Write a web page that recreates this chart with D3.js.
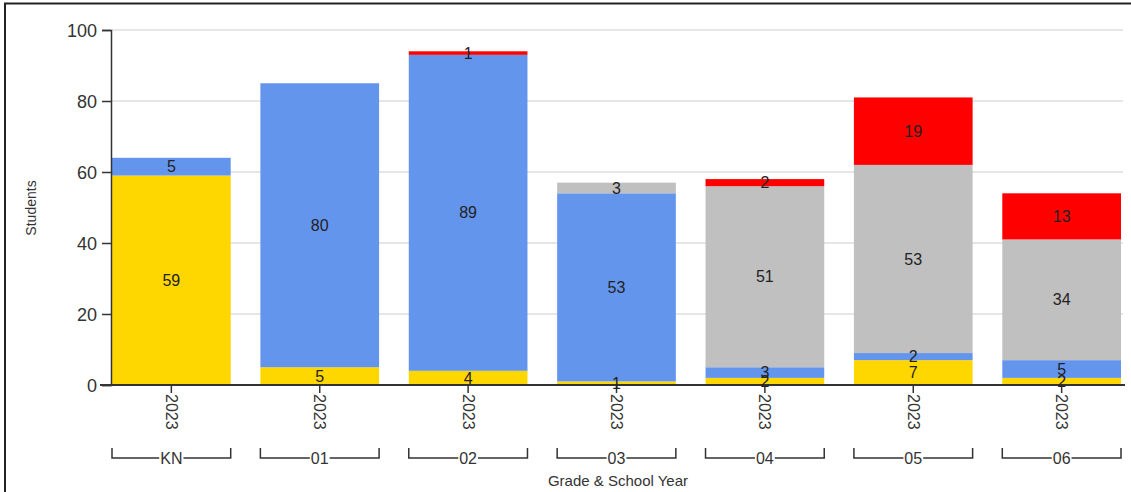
<!DOCTYPE html>
<html><head><meta charset="utf-8">
<script src="https://cdn.jsdelivr.net/npm/d3@7"></script>
<style>body{margin:0;background:#fff;}svg{display:block;font-family:Arial,"Liberation Sans",sans-serif;}</style>
</head><body><svg id="c" width="1131" height="492"></svg>
<script>
const grades = ["KN","01","02","03","04","05","06"];
const years = ["2023","2023","2023","2023","2023","2023","2023"];
const seriesNames = ["yellow","blue","gray","red"];
const seriesColors = ["#FFD700","#6495ED","#C0C0C0","#FF0000"];
const yellowVals = [59,5,4,1,2,7,2];
const blueVals = [5,80,89,53,3,2,5];
const grayVals = [0,0,0,3,51,53,34];
const redVals = [0,0,1,0,2,19,13];
const yTicks = [0,20,40,60,80,100];
const yTitle = "Students";
const xTitle = "Grade & School Year";

const svg = d3.select("#c");
const rows = grades.map((g,i)=>({key:g+"|"+i, grade:g, year:years[i], yellow:yellowVals[i], blue:blueVals[i], gray:grayVals[i], red:redVals[i]}));

const x = d3.scaleBand().domain(rows.map(d=>d.key)).range([112,1121]).paddingInner(0.2).paddingOuter(0);
const y = d3.scaleLinear().domain([0,100]).range([385,30]);

// frame
svg.append("rect").attr("x",5).attr("y",3.5).attr("width",1140).attr("height",500)
  .attr("fill","none").attr("stroke","#222").attr("stroke-width",2);

// gridlines
svg.append("g").selectAll("line").data(yTicks.filter(t=>t>0)).join("line")
  .attr("x1",112).attr("x2",1123).attr("y1",d=>y(d)).attr("y2",d=>y(d))
  .attr("stroke","#e6e6e6").attr("stroke-width",2);

// bars
const stack = d3.stack().keys(seriesNames)(rows);
const color = d3.scaleOrdinal().domain(seriesNames).range(seriesColors);
const gBars = svg.append("g");
stack.forEach(layer=>{
  gBars.append("g").attr("fill",color(layer.key)).selectAll("rect")
    .data(layer.filter(d=>d[1]-d[0]>0)).join("rect")
    .attr("x",d=>x(d.data.key)).attr("width",x.bandwidth())
    .attr("y",d=>y(d[1])).attr("height",d=>y(d[0])-y(d[1]));
});

// y axis
const yAxis = svg.append("g").attr("transform","translate(111,0)")
  .call(d3.axisLeft(y).tickValues(yTicks).tickSize(9).tickPadding(5));
yAxis.select(".domain").attr("stroke","#333").attr("stroke-width",1.5);
yAxis.selectAll(".tick line").attr("stroke","#333").attr("stroke-width",1.5);
yAxis.selectAll(".tick text").attr("font-size",18).attr("fill","#333").attr("dy","0.35em")
  .attr("font-family","Arial,'Liberation Sans',sans-serif");

// x axis
const xAxis = svg.append("g").attr("transform","translate(0,385)")
  .call(d3.axisBottom(x).tickSize(8).tickSizeOuter(0).tickFormat((k,i)=>rows[i].year));
xAxis.select(".domain").attr("d","M100,0H1125").attr("stroke","#333").attr("stroke-width",2);
xAxis.selectAll(".tick line").attr("stroke","#333").attr("stroke-width",1.5);
xAxis.selectAll(".tick text").attr("font-size",16).attr("fill","#333")
  .attr("font-family","Arial,'Liberation Sans',sans-serif")
  .attr("transform","rotate(90)").attr("text-anchor","start").attr("x",9).attr("y",0).attr("dy","0.35em");

// segment labels
stack.forEach(layer=>{
  svg.append("g").selectAll("text").data(layer.filter(d=>d[1]-d[0]>0)).join("text")
    .attr("x",d=>x(d.data.key)+x.bandwidth()/2)
    .attr("y",d=>y((d[0]+d[1])/2)).attr("dy","0.35em")
    .attr("text-anchor","middle").attr("font-size",16).attr("fill","#222")
    .text(d=>d[1]-d[0]);
});

// group brackets
const gBr = svg.append("g");
rows.forEach(r=>{
  const x0 = x(r.key), x1 = x(r.key)+x.bandwidth(), cx=(x0+x1)/2, yb=458;
  const t = gBr.append("text").attr("x",cx).attr("y",yb).attr("dy","0.35em").attr("text-anchor","middle")
    .attr("font-size",16).attr("fill","#333").text(r.grade);
  const hw = t.node().getComputedTextLength()/2 + 1;
  gBr.append("path").attr("d",`M${x0},${yb-10}V${yb}H${cx-hw}M${cx+hw},${yb}H${x1}V${yb-10}`)
    .attr("fill","none").attr("stroke","#333").attr("stroke-width",1.5);
});

// titles
svg.append("text").attr("transform","translate(36,208) rotate(-90)").attr("text-anchor","middle")
  .attr("font-size",14).attr("fill","#333").text(yTitle);
svg.append("text").attr("x",618).attr("y",481).attr("dy","0.35em").attr("text-anchor","middle")
  .attr("font-size",15).attr("fill","#333").text(xTitle);
</script></body></html>
